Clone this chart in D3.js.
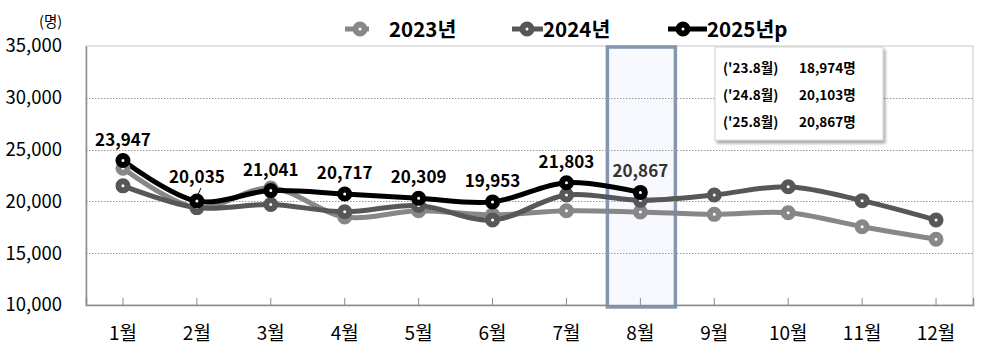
<!DOCTYPE html>
<html><head><meta charset="utf-8">
<script src="https://cdn.jsdelivr.net/npm/d3@7"></script>
<style>
body{margin:0;background:#fff;}
svg{display:block;font-family:"Noto Sans CJK KR","Noto Sans",sans-serif;}
</style></head>
<body><svg id="c" width="983" height="357"></svg>
<script>
const months = ["1월","2월","3월","4월","5월","6월","7월","8월","9월","10월","11월","12월"];
const v2023 = [23200, 19400, 21300, 18500, 19100, 18700, 19100, 18974, 18750, 18900, 17560, 16340];
const v2024 = [21500, 19400, 19700, 19000, 19600, 18200, 20620, 20103, 20620, 21420, 20070, 18200];
const v2025 = [23947, 20035, 21041, 20717, 20309, 19953, 21803, 20867];
const yTicks = [10000, 15000, 20000, 25000, 30000, 35000];
const seriesNames = ["2023년", "2024년", "2025년p"];
const seriesColors = ["#878787", "#575757", "#000000"];
const noteRows = [["('23.8월)", "18,974명"], ["('24.8월)", "20,103명"], ["('25.8월)", "20,867명"]];
const highlightMonth = "8월";

const svg = d3.select("#c");
const L = 86, R = 973, T = 46, B = 305;
const x = d3.scaleBand().domain(months).range([L, R]).padding(0);
const y = d3.scaleLinear().domain([10000, 35000]).range([B, T]);
const cx = m => x(m) + x.bandwidth() / 2;

// defs
const defs = svg.append("defs");
const f = defs.append("filter").attr("id", "sh").attr("x", "-10%").attr("y", "-10%").attr("width", "130%").attr("height", "140%");
f.append("feDropShadow").attr("dx", 2).attr("dy", 3).attr("stdDeviation", 1.5).attr("flood-color", "#000").attr("flood-opacity", 0.35);

// plot frame
svg.append("rect").attr("x", L).attr("y", T).attr("width", R - L).attr("height", B - T)
  .attr("fill", "#fff").attr("stroke", "#c8c8c8").attr("stroke-width", 1);

// highlight
svg.append("rect").attr("x", cx(highlightMonth) - 33).attr("y", T + 1)
  .attr("width", 68).attr("height", B - T + 1)
  .attr("fill", "#f8f9fe").attr("stroke", "#8496b0").attr("stroke-width", 3.5);

// gridlines
svg.append("g").selectAll("line").data(yTicks.filter(t => t > 10000 && t < 35000)).join("line")
  .attr("x1", L).attr("x2", R).attr("y1", d => Math.round(y(d)) + 0.5).attr("y2", d => Math.round(y(d)) + 0.5)
  .attr("stroke", "#9a9a9a").attr("stroke-width", 1).attr("stroke-dasharray", "1.5,1.5");

// axes
const yAxis = d3.axisLeft(y).tickValues(yTicks).tickSize(0).tickPadding(24).tickFormat(d3.format(","));
const gy = svg.append("g").attr("transform", `translate(${L},0)`).call(yAxis);
gy.select(".domain").attr("stroke", "#8c8c8c").attr("stroke-width", 1.5);
gy.selectAll("text").attr("font-size", 18.5).attr("fill", "#000")
  .attr("font-family", "'Noto Sans CJK KR', sans-serif");

const xAxis = d3.axisBottom(x).tickSize(-7).tickPadding(22);
const gx = svg.append("g").attr("transform", `translate(0,${B})`).call(xAxis);
gx.select(".domain").attr("stroke", "#8c8c8c").attr("stroke-width", 1.5);
gx.selectAll(".tick line").attr("stroke", "#8c8c8c");
gx.selectAll("text").attr("font-size", 19).attr("fill", "#000")
  .attr("font-family", "'Noto Sans CJK KR', sans-serif");

// unit
svg.append("text").attr("x", 39).attr("y", 27).attr("font-size", 14.5).text("(명)");

// lines
const line = d3.line().x((d, i) => cx(months[i])).y(d => y(d)).curve(d3.curveCatmullRom.alpha(0.5));
const allSeries = [v2023, v2024, v2025];
allSeries.forEach((vals, si) => {
  svg.append("path").datum(vals).attr("d", line).attr("fill", "none")
    .attr("stroke", seriesColors[si]).attr("stroke-width", 5).attr("stroke-linejoin", "round");
});
allSeries.forEach((vals, si) => {
  svg.append("g").selectAll("circle").data(vals).join("circle")
    .attr("cx", (d, i) => cx(months[i])).attr("cy", d => y(d)).attr("r", 4.5)
    .attr("fill", "#fff").attr("stroke", seriesColors[si]).attr("stroke-width", 6);
});

// data labels for 2025
const fmt = d3.format(",");
svg.append("g").selectAll("text").data(v2025).join("text")
  .attr("x", (d, i) => cx(months[i])).attr("y", (d, i) => y(d) - (i === 1 ? 18 : 15))
  .attr("text-anchor", "middle").attr("font-size", 17).attr("font-weight", "bold")
  .attr("fill", (d, i) => months[i] === highlightMonth ? "#333" : "#000")
  .text(d => fmt(d));
// leader line for 2월
svg.append("line").attr("x1", cx(months[1]) + 1).attr("y1", y(v2025[1]) - 6)
  .attr("x2", cx(months[1]) + 4).attr("y2", y(v2025[1]) - 13).attr("stroke", "#000").attr("stroke-width", 1);

// legend
const legendX = [345, 512, 668];
const legendW = [24, 31, 39];
const textX = [389, 543, 707];
seriesNames.forEach((n, i) => {
  const g = svg.append("g");
  g.append("line").attr("x1", legendX[i]).attr("x2", legendX[i] + legendW[i]).attr("y1", 29).attr("y2", 29)
    .attr("stroke", seriesColors[i]).attr("stroke-width", 5);
  g.append("circle").attr("cx", legendX[i] + 15).attr("cy", 29).attr("r", 4.5)
    .attr("fill", "#fff").attr("stroke", seriesColors[i]).attr("stroke-width", 6);
  g.append("text").attr("x", textX[i]).attr("y", 37).attr("font-size", 20.5).attr("font-weight", "bold")
    .attr("fill", "#000").text(n);
});

// annotation box
const bx = 715, by = 47, bw = 168, bh = 93;
svg.append("rect").attr("x", bx).attr("y", by).attr("width", bw).attr("height", bh)
  .attr("fill", "#fff").attr("stroke", "#d0d0d0").attr("stroke-width", 1).attr("filter", "url(#sh)");
noteRows.forEach((r, i) => {
  svg.append("text").attr("x", 723).attr("y", 73 + i * 27).attr("font-size", 13.5).attr("font-weight", "bold").text(r[0]);
  svg.append("text").attr("x", 799).attr("y", 73 + i * 27).attr("font-size", 13.5).attr("font-weight", "bold").text(r[1]);
});
</script></body></html>
